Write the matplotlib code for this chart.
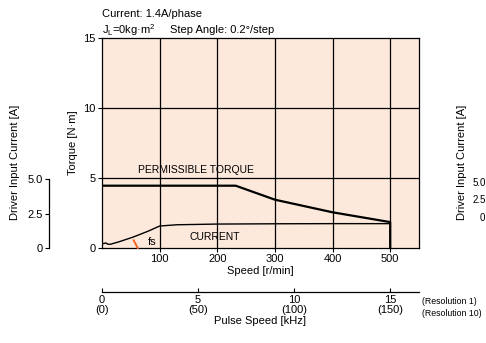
import numpy as np
import matplotlib
matplotlib.use('Agg')
import matplotlib.pyplot as plt

plt.rcParams['font.family'] = ['Liberation Sans', 'DejaVu Sans']
plt.rcParams['font.size'] = 8
plt.rcParams['mathtext.fontset'] = 'custom'
plt.rcParams['mathtext.rm'] = 'Liberation Sans'

# Data
torque_speed = [0, 232, 300, 400, 500, 500]
torque_values = [4.45, 4.45, 3.45, 2.55, 1.85, 0.0]

current_speed = [0, 4, 7, 10, 15, 30, 54, 80, 100, 130, 200, 300, 400, 500]
current_values = [0.3, 0.33, 0.36, 0.27, 0.27, 0.45, 0.78, 1.2, 1.57, 1.66, 1.71, 1.73, 1.74, 1.74]

fs_speed = [55, 62]
fs_values = [0.55, 0.0]

speed_ticks = [100, 200, 300, 400, 500]
torque_ticks = [0, 5, 10, 15]
current_ticks = [0, 2.5, 5.0]
current_tick_labels = ['0', '2.5', '5.0']
pulse_ticks = [0, 5, 10, 15]
pulse_tick_labels = ['0\n(0)', '5\n(50)', '10\n(100)', '15\n(150)']

W, H = 486, 343
fig = plt.figure(figsize=(W / 100, H / 100), dpi=100)

def box(x0, y0, x1, y1):
    # pixel box (top-left origin) -> figure fraction rect
    return [x0 / W, (H - y1) / H, (x1 - x0) / W, (y1 - y0) / H]

# main torque/current chart
ax = fig.add_axes(box(102, 38, 419, 248))
ax.set_facecolor('#fde9dc')
ax.set_xlim(0, 550)
ax.set_ylim(0, 15)
ax.set_xticks(speed_ticks)
ax.set_yticks(torque_ticks)
for v in speed_ticks:
    ax.axvline(v, color='black', lw=0.9, zorder=1)
for v in [5, 10]:
    ax.axhline(v, color='black', lw=0.9, zorder=1)
for s in ax.spines.values():
    s.set_linewidth(0.9)
ax.tick_params(direction='out', length=3, width=0.8, pad=1.5, labelsize=8)

ax.plot(torque_speed, torque_values, color='black', lw=1.6, zorder=3)
ax.plot(current_speed, current_values, color='black', lw=1.0, zorder=3)
ax.plot(fs_speed, fs_values, color='#f26522', lw=1.4, zorder=3, clip_on=False)

ax.text(62, 5.2, 'PERMISSIBLE TORQUE', fontsize=7.5, va='bottom', ha='left')
ax.text(80, 0.45, 'fs', fontsize=8, va='center', ha='left')
ax.text(195, 0.8, 'CURRENT', fontsize=7.5, va='center', ha='center')

ax.set_xlabel('Speed [r/min]', fontsize=8, labelpad=1)
ax.set_ylabel('Torque [N·m]', fontsize=8, labelpad=4)

# left driver input current scale
axc = fig.add_axes(box(49, 179, 52, 248))
axc.set_ylim(0, 5)
axc.set_yticks(current_ticks)
axc.set_yticklabels(current_tick_labels)
axc.set_xticks([])
for k in ['top', 'right', 'bottom']:
    axc.spines[k].set_visible(False)
axc.spines['left'].set_linewidth(0.9)
axc.patch.set_visible(False)
axc.tick_params(direction='out', length=3, width=0.8, pad=1.5, labelsize=8)
fig.text(15 / W, 1 - 162 / H, 'Driver Input Current [A]', rotation=90,
         ha='center', va='center', fontsize=8)

# pulse speed scale under the chart
axp = fig.add_axes(box(102, 291, 419, 292))
axp.set_xlim(0, 16.5)
axp.set_xticks(pulse_ticks)
axp.set_xticklabels(pulse_tick_labels, linespacing=1.0)
axp.set_yticks([])
for k in ['top', 'right', 'left']:
    axp.spines[k].set_visible(False)
axp.spines['bottom'].set_linewidth(0.9)
axp.patch.set_visible(False)
axp.tick_params(direction='in', length=3, width=0.8, pad=2, labelsize=8)
axp.set_xlabel('Pulse Speed [kHz]', fontsize=8, labelpad=1)
fig.text(422 / W, 1 - 301 / H, '(Resolution 1)', fontsize=6.3, va='center', ha='left')
fig.text(422 / W, 1 - 313 / H, '(Resolution 10)', fontsize=6.3, va='center', ha='left')

# header
fig.text(102 / W, 1 - 14 / H, 'Current: 1.4A/phase', fontsize=8, va='center', ha='left')
fig.text(102 / W, 1 - 30 / H, r'J$_\mathregular{L}$=0kg·m$^\mathregular{2}$', fontsize=8,
         va='center', ha='left')
fig.text(170 / W, 1 - 30 / H, 'Step Angle: 0.2°/step', fontsize=8, va='center', ha='left')

# cut-off copy of the current scale at the right edge
fig.text(462 / W, 1 - 162 / H, 'Driver Input Current [A]', rotation=90,
         ha='center', va='center', fontsize=8)
fig.text(473 / W, 1 - 183 / H, '5.0', fontsize=7, va='center', ha='left')
fig.text(473 / W, 1 - 200 / H, '2.5', fontsize=7, va='center', ha='left')
fig.text(480 / W, 1 - 218 / H, '0', fontsize=7, va='center', ha='left')

fig.savefig('out.png', dpi=100)
